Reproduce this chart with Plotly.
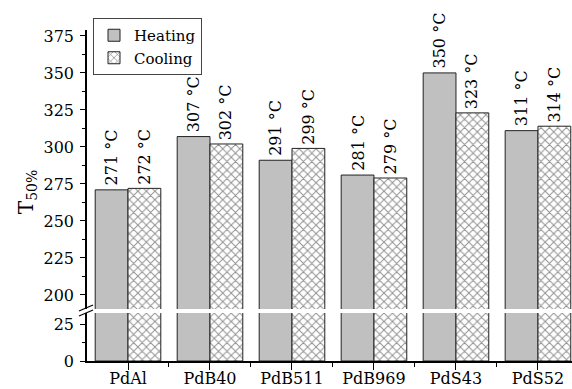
import plotly.graph_objects as go

# Catalyst samples and their T50% light-off temperatures (°C)
samples = ["PdAl", "PdB40", "PdB511", "PdB969", "PdS43", "PdS52"]
heating = [271, 307, 291, 281, 350, 311]
cooling = [272, 302, 299, 279, 323, 314]

upper_ticks = [200, 225, 250, 275, 300, 325, 350, 375]
lower_ticks = [0, 25]

FONT = "DejaVu Serif"
x_pos = list(range(len(samples)))

W, H = 572, 389
M_L, M_R, M_T, M_B = 87, 0, 30, 28
PW, PH = W - M_L - M_R, H - M_T - M_B


def px_x(p):
    return (p - M_L) / PW


def px_y(p):
    return (H - M_B - p) / PH


heat_style = dict(color="#c0c0c0", line=dict(color="#222222", width=1))
cool_style = dict(
    color="white",
    line=dict(color="#222222", width=1),
    pattern=dict(shape="x", fgcolor="#222222", bgcolor="white", size=6, solidity=0.3),
)

fig = go.Figure()
# upper (broken) segment
fig.add_trace(go.Bar(x=x_pos, y=heating, name="Heating", marker=heat_style,
                     xaxis="x", yaxis="y2", legendgroup="h"))
fig.add_trace(go.Bar(x=x_pos, y=cooling, name="Cooling", marker=cool_style,
                     xaxis="x", yaxis="y2", legendgroup="c"))
# lower segment
fig.add_trace(go.Bar(x=x_pos, y=heating, name="Heating", marker=heat_style,
                     xaxis="x", yaxis="y", legendgroup="h", showlegend=False))
fig.add_trace(go.Bar(x=x_pos, y=cooling, name="Cooling", marker=cool_style,
                     xaxis="x", yaxis="y", legendgroup="c", showlegend=False))

# value labels above each bar
annotations = []
for i, (h, c) in enumerate(zip(heating, cooling)):
    for off, v in ((-0.2, h), (0.2, c)):
        annotations.append(dict(
            x=i + off, y=v, xref="x", yref="y2", text=f"{v} °C",
            textangle=-90, showarrow=False, xanchor="center", yanchor="bottom",
            yshift=2, font=dict(family=FONT, size=16, color="black"),
        ))

# y-axis title
annotations.append(dict(
    x=px_x(27), y=0.51, xref="paper", yref="paper", text="T<sub>50%</sub>",
    textangle=-90, showarrow=False, xanchor="center", yanchor="middle",
    font=dict(family=FONT, size=20, color="black"),
))

axis_common = dict(
    showline=True, linecolor="black", linewidth=1.5, ticks="outside",
    ticklen=5, tickwidth=1.2, tickcolor="black", showgrid=False, zeroline=False,
    tickfont=dict(family=FONT, size=16, color="black"), ticklabelstandoff=3,
    automargin=False,
)

lower_dom_top = px_y(313)
upper_dom_bot = px_y(309)

fig.update_layout(
    width=W, height=H,
    margin=dict(l=M_L, r=M_R, t=M_T, b=M_B, autoexpand=False),
    paper_bgcolor="white", plot_bgcolor="white",
    barmode="group", bargap=0.2, bargroupgap=0.0,
    xaxis=dict(
        range=[-0.5, 5.415], tickmode="array", tickvals=x_pos, ticktext=samples,
        showline=True, linecolor="black", linewidth=1.5, ticks="outside",
        ticklen=7, tickwidth=1.2, tickcolor="black", showgrid=False, zeroline=False,
        tickfont=dict(family=FONT, size=16, color="black"), anchor="y",
        automargin=False, ticklabelstandoff=-5,
        minor=dict(tickmode="array", tickvals=[i + 0.5 for i in x_pos[:-1]],
                   ticks="outside", ticklen=4, tickwidth=1.2, tickcolor="black"),
    ),
    yaxis=dict(
        domain=[0, lower_dom_top], range=[0, 33], tickmode="array",
        tickvals=lower_ticks, anchor="x",
        minor=dict(dtick=12.5, tick0=0, ticks="outside", ticklen=3,
                   tickwidth=1.2, tickcolor="black"),
        **axis_common,
    ),
    yaxis2=dict(
        domain=[upper_dom_bot, 1], range=[190.5, 379], tickmode="array",
        tickvals=upper_ticks, anchor="x",
        minor=dict(dtick=12.5, tick0=0, ticks="outside", ticklen=3,
                   tickwidth=1.2, tickcolor="black"),
        **axis_common,
    ),
    legend=dict(
        x=px_x(93), y=px_y(18), xanchor="left", yanchor="top",
        bgcolor="white", bordercolor="#444444", borderwidth=1,
        font=dict(family=FONT, size=15, color="black"),
        tracegroupgap=0, itemwidth=30,
    ),
    annotations=annotations,
    showlegend=True,
)

# axis break marks "//"
for y0, y1 in ((311, 305), (316, 310)):
    fig.add_shape(type="line", xref="paper", yref="paper",
                  x0=px_x(79), y0=px_y(y0), x1=px_x(93), y1=px_y(y1),
                  line=dict(color="black", width=1.2))

fig.write_html("out.html")
